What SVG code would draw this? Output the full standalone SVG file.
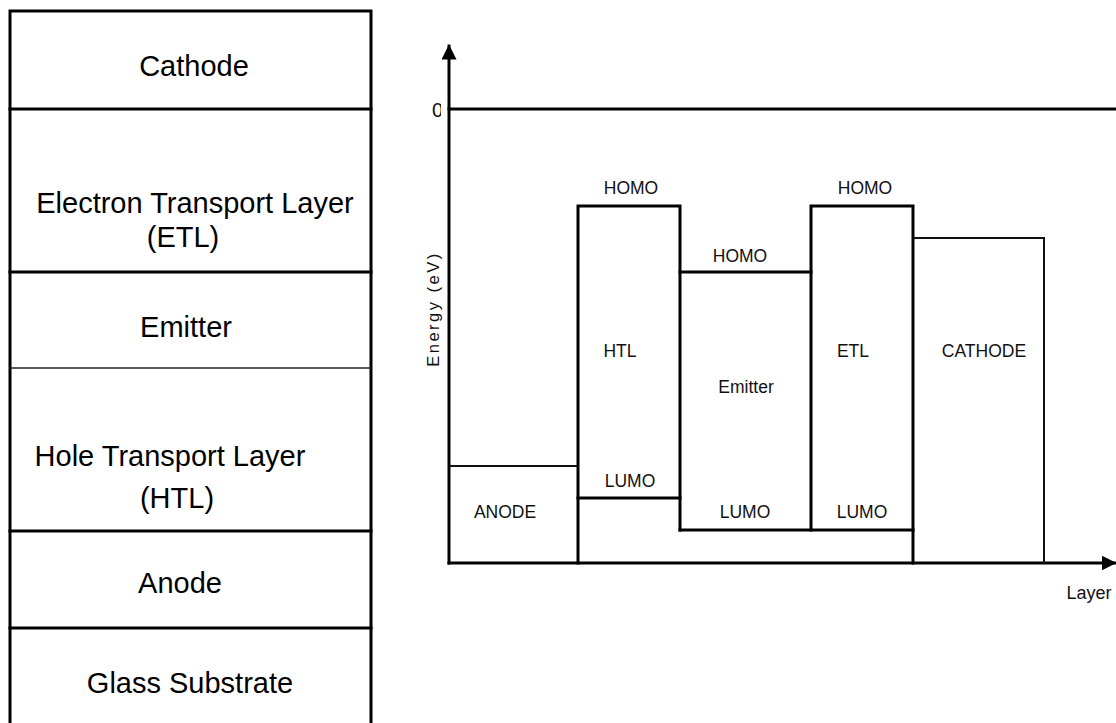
<svg xmlns="http://www.w3.org/2000/svg" width="1116" height="723" viewBox="0 0 1116 723">
  <style>
    .big { font-family: "Liberation Sans", Arial, sans-serif; font-size: 29px; fill: #000; text-anchor: middle; }
    .lbl { font-family: "Liberation Sans", Arial, sans-serif; font-size: 17.5px; fill: #111; text-anchor: middle; }
    .thick { stroke: #000; stroke-width: 3; fill: none; stroke-linecap: square; }
    .mid { stroke: #111; stroke-width: 2; fill: none; }
    .thin { stroke: #222; stroke-width: 1.3; fill: none; }
  </style>
  <defs>
    <marker id="arrow" viewBox="0 0 10 10" refX="9" refY="5" markerWidth="5" markerHeight="5" orient="auto" markerUnits="strokeWidth">
      <path d="M0,0 L10,5 L0,10 Z" fill="#000"/>
    </marker>
    <clipPath id="zeroClip"><rect x="420" y="90" width="21" height="40"/></clipPath>
  </defs>
  <rect width="1116" height="723" fill="#fff"/>

  <!-- Left layer stack -->
  <g id="stack">
    <path class="thick" d="M10,730 L10,11 L371,11 L371,730"/>
    <g id="layer-cathode">
      <line class="thick" x1="10" y1="109" x2="371" y2="109"/>
      <text class="big" x="194" y="76">Cathode</text>
    </g>
    <g id="layer-etl">
      <line class="thick" x1="10" y1="272" x2="371" y2="272"/>
      <text class="big" x="195" y="213">Electron Transport Layer</text>
      <text class="big" x="183" y="247">(ETL)</text>
    </g>
    <g id="layer-emitter">
      <line class="thin" x1="10" y1="368" x2="371" y2="368"/>
      <text class="big" x="186" y="337">Emitter</text>
    </g>
    <g id="layer-htl">
      <line class="thick" x1="10" y1="531" x2="371" y2="531"/>
      <text class="big" x="170" y="466">Hole Transport Layer</text>
      <text class="big" x="177" y="508">(HTL)</text>
    </g>
    <g id="layer-anode">
      <line class="thick" x1="10" y1="628" x2="371" y2="628"/>
      <text class="big" x="180" y="593">Anode</text>
    </g>
    <g id="layer-glass">
      <text class="big" x="190" y="693">Glass Substrate</text>
    </g>
  </g>

  <!-- Energy diagram axes -->
  <g id="connectors">
    <line class="thick" x1="449" y1="563" x2="449" y2="46" marker-end="url(#arrow)" stroke-linecap="butt"/>
    <line class="thick" x1="449" y1="563" x2="1115" y2="563" marker-end="url(#arrow)" stroke-linecap="butt"/>
    <line class="thick" x1="449" y1="109" x2="1116" y2="109"/>
  </g>
  <g id="axis-labels">
    <text class="lbl" x="432" y="117" style="font-size:20px;text-anchor:start" clip-path="url(#zeroClip)">0</text>
    <text class="lbl" transform="translate(439,309) rotate(-90)" style="font-size:16.5px;letter-spacing:2.5px">Energy (eV)</text>
    <text class="lbl" x="1089" y="599" style="font-size:18px">Layer</text>
  </g>

  <g id="band-anode">
    <line class="mid" x1="449" y1="466" x2="578" y2="466"/>
    <text class="lbl" x="505" y="518">ANODE</text>
  </g>
  <g id="band-htl">
    <path class="thick" d="M578,563 L578,206 L680,206 L680,530"/>
    <line class="thick" x1="578" y1="498" x2="680" y2="498"/>
    <text class="lbl" x="631" y="194">HOMO</text>
    <text class="lbl" x="620" y="357">HTL</text>
    <text class="lbl" x="630" y="487">LUMO</text>
  </g>
  <g id="band-emitter">
    <line class="thick" x1="680" y1="272" x2="811" y2="272"/>
    <line class="thick" x1="680" y1="530" x2="913" y2="530"/>
    <text class="lbl" x="740" y="262">HOMO</text>
    <text class="lbl" x="746" y="393">Emitter</text>
    <text class="lbl" x="745" y="518">LUMO</text>
  </g>
  <g id="band-etl">
    <path class="thick" d="M811,530 L811,206 L913,206 L913,563"/>
    <text class="lbl" x="865" y="194">HOMO</text>
    <text class="lbl" x="853" y="357">ETL</text>
    <text class="lbl" x="862" y="518">LUMO</text>
  </g>
  <g id="band-cathode">
    <path class="mid" d="M913,238 L1044,238 L1044,563"/>
    <text class="lbl" x="984" y="357">CATHODE</text>
  </g>
</svg>
